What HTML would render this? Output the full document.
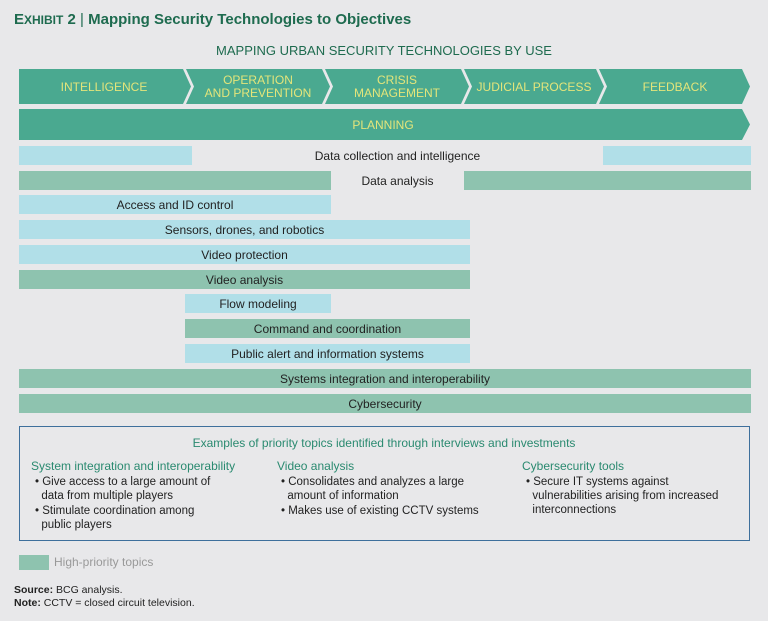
<!DOCTYPE html>
<html><head><style>
body{margin:0;width:768px;height:621px;background:#e8e8ea;font-family:"Liberation Sans",sans-serif;position:relative;overflow:hidden}
.a{position:absolute}
.bar{position:absolute;height:19px;font-size:12px;color:#222;display:flex;align-items:center;justify-content:center;white-space:nowrap}
.lb{background:#b1dfe8}.gr{background:#8ec3af}
.t{position:absolute;color:#222;font-size:11.5px;line-height:14px}
.h{color:#2a8a70;font-size:12px}
</style></head><body>
<div class="a" style="left:14px;top:11px;font-size:15px;font-weight:bold;color:#1e6b4f">E<span style="font-size:12px">XHIBIT</span> 2 <span style="font-weight:normal">|</span> Mapping Security Technologies to Objectives</div>
<div class="a" style="left:0;width:768px;top:43px;text-align:center;font-size:13px;color:#1e6b4f">MAPPING URBAN SECURITY TECHNOLOGIES BY USE</div>
<svg class="a" style="left:0;top:0" width="768" height="145">
<g fill="#4aa990">
<polygon points="19,69 183,69 191,86.5 183,104 19,104"/>
<polygon points="186,69 322,69 330,86.5 322,104 186,104 194,86.5"/>
<polygon points="325,69 461,69 469,86.5 461,104 325,104 333,86.5"/>
<polygon points="464,69 596,69 604,86.5 596,104 464,104 472,86.5"/>
<polygon points="599,69 742,69 750,86.5 742,104 599,104 607,86.5"/>
<polygon points="19,109 742,109 750,124.5 742,140 19,140"/>
</g>
<g fill="#e4e57a" font-family="Liberation Sans" font-size="12" text-anchor="middle">
<text x="104" y="91">INTELLIGENCE</text>
<text x="258" y="84">OPERATION</text><text x="258" y="97">AND PREVENTION</text>
<text x="397" y="84">CRISIS</text><text x="397" y="97">MANAGEMENT</text>
<text x="534" y="91">JUDICIAL PROCESS</text>
<text x="675" y="91">FEEDBACK</text>
<text x="383" y="129">PLANNING</text>
</g>
</svg>
<div class="bar lb" style="left:19px;width:173px;top:146px"></div>
<div class="bar lb" style="left:603px;width:148px;top:146px"></div>
<div class="bar" style="left:192px;width:411px;top:146px">Data collection and intelligence</div>
<div class="bar gr" style="left:19px;width:312px;top:171px"></div>
<div class="bar gr" style="left:464px;width:287px;top:171px"></div>
<div class="bar" style="left:331px;width:133px;top:171px">Data analysis</div>
<div class="bar lb" style="left:19px;width:312px;top:195px">Access and ID control</div>
<div class="bar lb" style="left:19px;width:451px;top:220px">Sensors, drones, and robotics</div>
<div class="bar lb" style="left:19px;width:451px;top:245px">Video protection</div>
<div class="bar gr" style="left:19px;width:451px;top:270px">Video analysis</div>
<div class="bar lb" style="left:185px;width:146px;top:294px">Flow modeling</div>
<div class="bar gr" style="left:185px;width:285px;top:319px">Command and coordination</div>
<div class="bar lb" style="left:185px;width:285px;top:344px">Public alert and information systems</div>
<div class="bar gr" style="left:19px;width:732px;top:369px">Systems integration and interoperability</div>
<div class="bar gr" style="left:19px;width:732px;top:394px">Cybersecurity</div>
<div class="a" style="left:19px;top:426px;width:729px;height:113px;border:1.5px solid #3d6f9c"></div>
<div class="a h" style="left:0;width:768px;top:436px;text-align:center">Examples of priority topics identified through interviews and investments</div>
<div class="a h" style="left:31px;top:459px">System integration and interoperability</div>
<div class="t" style="left:35px;top:475px">• Give access to a large amount of<br>&nbsp;&nbsp;data from multiple players</div>
<div class="t" style="left:35px;top:504px">• Stimulate coordination among<br>&nbsp;&nbsp;public players</div>
<div class="a h" style="left:277px;top:459px">Video analysis</div>
<div class="t" style="left:281px;top:475px">• Consolidates and analyzes a large<br>&nbsp;&nbsp;amount of information</div>
<div class="t" style="left:281px;top:504px">• Makes use of existing CCTV systems</div>
<div class="a h" style="left:522px;top:459px">Cybersecurity tools</div>
<div class="t" style="left:526px;top:475px">• Secure IT systems against<br>&nbsp;&nbsp;vulnerabilities arising from increased<br>&nbsp;&nbsp;interconnections</div>
<div class="a" style="left:19px;top:555px;width:30px;height:15px;background:#8ec3af"></div>
<div class="a" style="left:54px;top:555px;font-size:12px;color:#999">High-priority topics</div>
<div class="a" style="left:14px;top:584px;font-size:10.5px;color:#222;line-height:13px"><b>Source:</b> BCG analysis.<br><b>Note:</b> CCTV = closed circuit television.</div>
</body></html>
